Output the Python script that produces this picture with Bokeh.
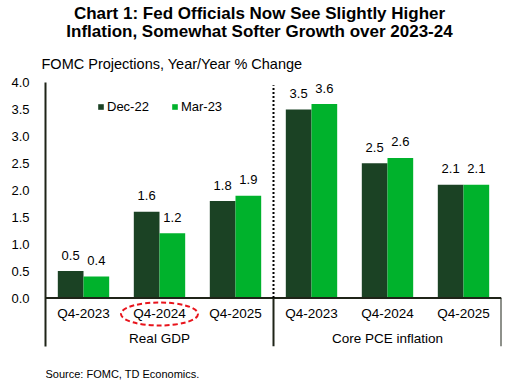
from bokeh.plotting import figure
from bokeh.layouts import column
from bokeh.models import (ColumnDataSource, FactorRange, Range1d, FixedTicker,
                          PrintfTickFormatter, Title)
from bokeh.transform import dodge
from bokeh.core.properties import value
from bokeh.embed import file_html
from bokeh.resources import INLINE

# ---------------- data ----------------
groups = ["Real GDP", "Core PCE inflation"]
periods = ["Q4-2023", "Q4-2024", "Q4-2025"]
series_names = ["Dec-22", "Mar-23"]
dec22 = [0.5, 1.6, 1.8, 3.5, 2.5, 2.1]
mar23 = [0.4, 1.2, 1.9, 3.6, 2.6, 2.1]
y_ticks = [0.0, 0.5, 1.0, 1.5, 2.0, 2.5, 3.0, 3.5, 4.0]
highlight = ("Real GDP", "Q4-2024")
title_line1 = "Chart 1: Fed Officials Now See Slightly Higher"
title_line2 = "Inflation, Somewhat Softer Growth over 2023-24"
subtitle = "FOMC Projections, Year/Year % Change"
source_note = "Source: FOMC, TD Economics."

# ---------------- style / layout ----------------
FONT = "Liberation Sans"
DARK = "#1b4224"
BRIGHT = "#00b22c"
AXIS = "#1f2418"
TXT = "#000000"

W = 516
HEAD_H = 42
FOOT_H = 24
FRAME_L, FRAME_W, FRAME_H = 45, 456, 264
FRAME_R = W - FRAME_L - FRAME_W
TOP_PAD, BOTTOM_PAD = 40, 14
FRAME_T = HEAD_H + TOP_PAD
Y0, Y1 = -0.9, 4.0

factors = [(g, per) for g in groups for per in periods]
n_total = len(factors)
n_first = len(periods)


def ypx(py):
    """page pixel -> y data coordinate of the main plot"""
    return Y1 - (py - FRAME_T) / FRAME_H * (Y1 - Y0)


def text_panel(height, items):
    f = figure(width=W, height=height,
               x_range=Range1d(FRAME_L, FRAME_L + FRAME_W),
               y_range=Range1d(height, 0),
               min_border_left=FRAME_L, min_border_right=FRAME_R,
               min_border_top=0, min_border_bottom=0,
               output_backend="svg", toolbar_location=None,
               x_axis_location=None, y_axis_location=None)
    f.outline_line_color = None
    f.xgrid.visible = False
    f.ygrid.visible = False
    f.border_fill_color = "white"
    for txt, px, py, align, size, style in items:
        f.text(x=[px], y=[py], text=[txt], text_align=align,
               text_baseline="middle", text_font=value(FONT),
               text_font_size=size, text_font_style=style, text_color=TXT)
    return f


header = text_panel(HEAD_H, [
    (title_line1, 259, 13, "center", "17px", "bold"),
    (title_line2, 259, 31, "center", "17px", "bold"),
])
footer = text_panel(FOOT_H, [
    (source_note, 45, 13, "left", "11px", "normal"),
])

src = ColumnDataSource(dict(
    x=factors,
    dec=dec22,
    mar=mar23,
    dec_lbl=[f"{v:.1f}" for v in dec22],
    mar_lbl=[f"{v:.1f}" for v in mar23],
    per=[f[1] for f in factors],
))

p = figure(
    x_range=FactorRange(*factors, range_padding=0, group_padding=0,
                        factor_padding=0, subgroup_padding=0),
    y_range=Range1d(Y0, Y1),
    frame_width=FRAME_W, frame_height=FRAME_H,
    min_border_left=FRAME_L, min_border_right=FRAME_R,
    min_border_top=TOP_PAD, min_border_bottom=BOTTOM_PAD,
    output_backend="svg", toolbar_location=None,
    x_axis_location=None, title=None,
)
p.outline_line_color = None
p.xgrid.visible = False
p.ygrid.visible = False
p.background_fill_color = "white"
p.border_fill_color = "white"

p.add_layout(Title(text=subtitle, align="left", offset=-4,
                   text_font=FONT, text_font_size="14.5px",
                   text_font_style="normal", text_color=TXT, standoff=22),
             "above")

# y axis
ya = p.yaxis[0]
ya.ticker = FixedTicker(ticks=y_ticks)
ya.formatter = PrintfTickFormatter(format="%.1f")
ya.major_tick_line_color = None
ya.minor_tick_line_color = None
ya.axis_line_color = AXIS
ya.axis_line_width = 2
ya.major_label_text_font = FONT
ya.major_label_text_font_size = "13px"
ya.major_label_text_color = TXT
ya.major_label_standoff = 10

# bars
bw = 0.338
p.vbar(x=dodge("x", -bw / 2, range=p.x_range), top="dec", width=bw, source=src,
       fill_color=DARK, line_color=None, legend_label=series_names[0])
p.vbar(x=dodge("x", bw / 2, range=p.x_range), top="mar", width=bw, source=src,
       fill_color=BRIGHT, line_color=None, legend_label=series_names[1])

# value labels
for col, lbl, off in (("dec", "dec_lbl", -bw / 2), ("mar", "mar_lbl", bw / 2)):
    p.text(x=dodge("x", off, range=p.x_range), y=col, text=lbl, source=src,
           text_align="center", text_baseline="middle", y_offset=-16,
           text_font=value(FONT), text_font_size="13px", text_color=TXT)

# axis-like lines
p.segment(x0=[0, n_first, n_total], y0=[0, 0, 0],
          x1=[n_total, n_first, n_total], y1=[0, Y0, Y0],
          line_color=AXIS, line_width=2)
p.segment(x0=[n_first], y0=[0], x1=[n_first], y1=[3.95],
          line_color="black", line_width=2, line_dash="2 2")

# category labels
p.text(x="x", y=ypx(313), text="per", source=src, text_align="center",
       text_baseline="middle", text_font=value(FONT), text_font_size="13.5px",
       text_color=TXT)
p.text(x=groups, y=[ypx(338)] * len(groups), text=groups, text_align="center",
       text_baseline="middle", text_font=value(FONT), text_font_size="13.5px",
       text_color=TXT)

# highlight ellipse
p.ellipse(x=[highlight], y=[ypx(313.5)], width=77, height=23,
          width_units="screen", height_units="screen",
          fill_color=None, line_color="#e8141c", line_width=2, line_dash="5 3")

# legend
lg = p.legend[0]
lg.orientation = "horizontal"
lg.location = (52, 232)
lg.border_line_color = None
lg.background_fill_alpha = 0
lg.padding = 0
lg.margin = 0
lg.spacing = 22
lg.glyph_width = 7
lg.glyph_height = 7
lg.label_standoff = 3
lg.label_height = 14
lg.label_text_font = FONT
lg.label_text_font_size = "13px"
lg.label_text_color = TXT

layout = column(header, p, footer, spacing=0)

open("out.html", "w").write(file_html(layout, INLINE))
